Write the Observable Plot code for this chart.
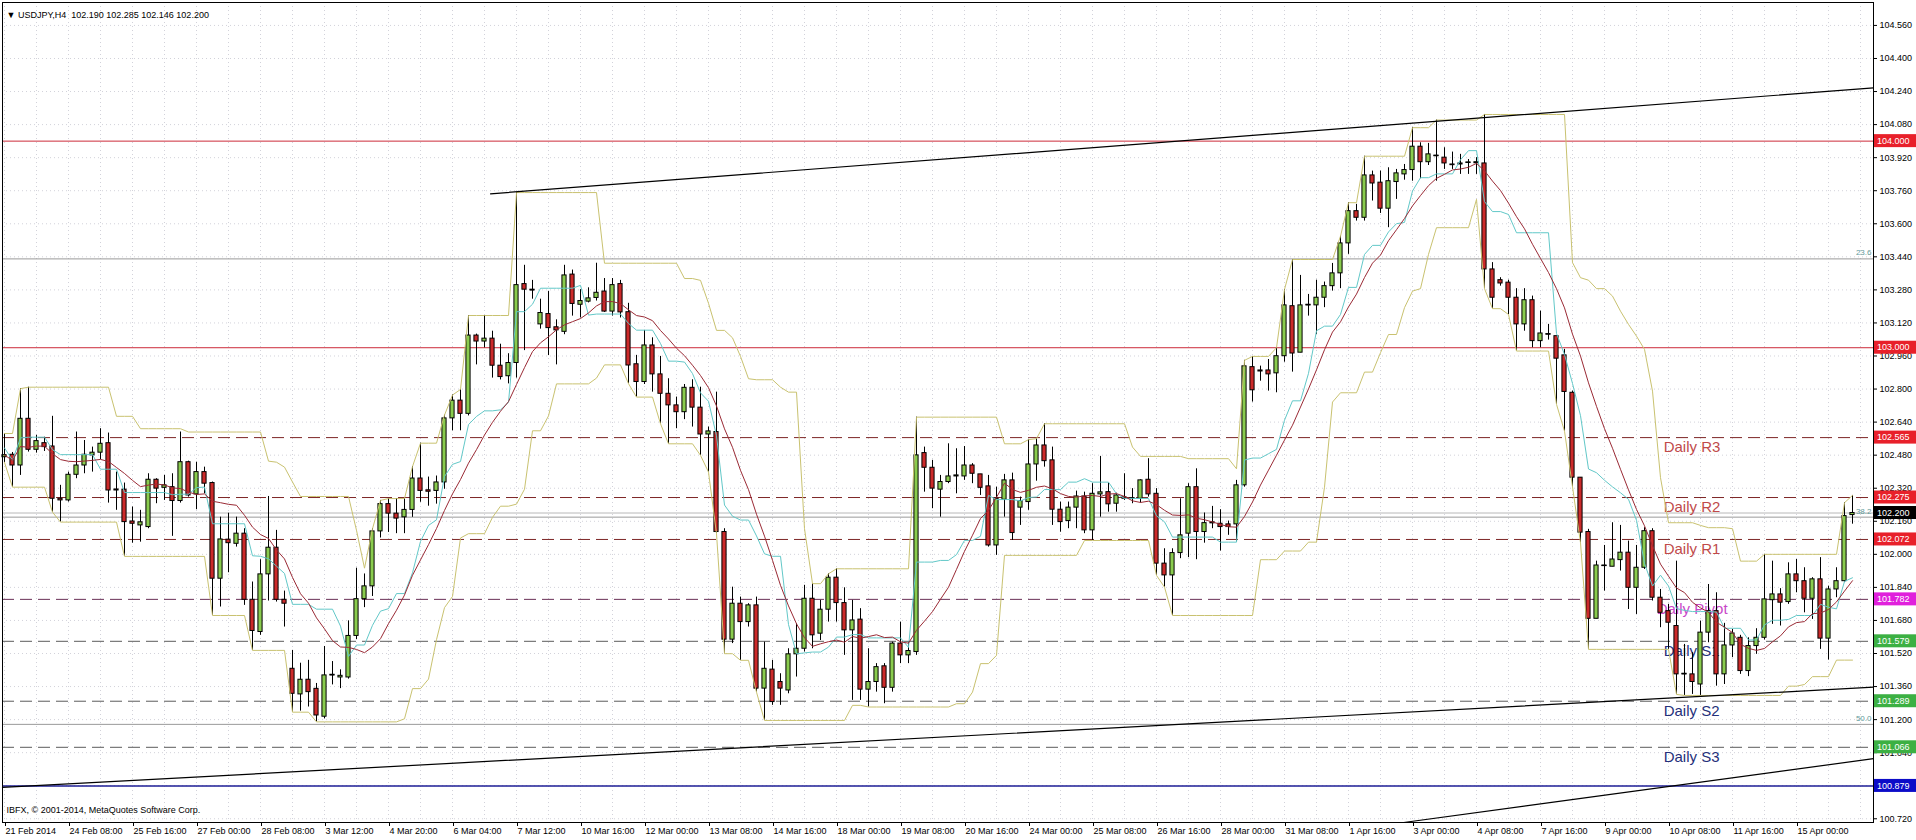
<!DOCTYPE html>
<html><head><meta charset="utf-8">
<script src="https://cdn.jsdelivr.net/npm/d3@7"></script>
<script src="https://cdn.jsdelivr.net/npm/@observablehq/plot@0.6"></script>
<style>
html,body{margin:0;padding:0;background:#fff;}
#chart{width:1916px;height:840px;overflow:hidden;}
</style></head><body><div id="chart"></div>
<script>
// ---------- DATA ----------
const symbol = "USDJPY,H4";
const copyright = "IBFX, \u00a9 2001-2014, MetaQuotes Software Corp.";

const barOpen = [102.470,102.482,102.430,102.656,102.506,102.538,102.522,102.269,102.261,102.385,102.430,102.479,102.492,102.538,102.314,102.313,102.159,102.140,102.132,102.361,102.322,102.325,102.258,102.446,102.290,102.398,102.345,101.882,102.071,102.051,102.100,101.780,101.624,101.903,102.032,101.780,101.446,101.322,101.393,101.349,101.214,101.414,101.404,101.404,101.605,101.783,101.845,102.111,102.243,102.197,102.179,102.215,102.367,102.310,102.307,102.348,102.658,102.744,102.680,103.059,103.030,103.044,102.913,102.862,102.926,103.308,103.281,103.113,103.163,103.099,103.077,103.354,103.208,103.223,103.241,103.272,103.175,103.308,103.172,102.920,102.834,103.011,102.871,102.777,102.721,102.688,102.806,102.710,102.580,102.592,102.108,101.587,101.761,101.672,101.753,101.350,101.442,101.382,101.341,101.516,101.543,101.785,101.616,101.732,101.887,101.764,101.632,101.684,101.345,101.382,101.458,101.354,101.568,101.511,101.527,102.490,102.419,102.313,102.350,102.377,102.377,102.430,102.387,102.329,102.043,102.264,102.358,102.226,102.253,102.435,102.527,102.455,102.216,102.161,102.226,102.280,102.116,102.290,102.301,102.245,102.276,102.269,102.269,102.361,102.293,101.955,101.898,102.006,102.100,102.325,102.108,102.150,102.148,102.145,102.145,102.334,102.906,102.890,102.890,102.876,102.959,103.201,102.976,103.205,103.205,103.242,103.298,103.360,103.505,103.661,103.629,103.834,103.799,103.673,103.802,103.839,103.860,103.973,103.898,103.927,103.920,103.887,103.892,103.895,103.893,103.892,103.379,103.327,103.315,103.242,103.113,103.230,103.032,103.064,103.056,102.963,102.782,102.371,102.108,101.688,101.943,101.940,101.972,102.008,101.838,101.935,102.112,101.790,101.725,101.653,101.419,101.419,101.370,101.621,101.725,101.419,101.559,101.596,101.435,101.556,101.596,101.778,101.806,101.769,101.903,101.870,101.785,101.879,101.592,101.830,101.870,102.190];

const barHigh = [102.585,102.493,102.802,102.809,102.576,102.567,102.668,102.334,102.398,102.592,102.551,102.519,102.608,102.587,102.398,102.345,102.229,102.213,102.390,102.366,102.382,102.390,102.592,102.451,102.446,102.422,102.350,102.180,102.199,102.180,102.124,101.866,101.974,102.280,102.116,101.822,101.535,101.473,101.487,101.375,101.554,101.481,101.441,101.678,101.933,101.905,102.124,102.261,102.270,102.270,102.270,102.425,102.538,102.374,102.379,102.674,102.771,102.798,103.156,103.066,103.156,103.080,103.017,102.971,103.751,103.399,103.326,103.235,103.272,103.135,103.399,103.376,103.281,103.290,103.409,103.335,103.335,103.326,103.215,102.963,103.084,103.048,102.958,102.850,102.761,102.822,102.845,102.809,102.616,102.785,102.124,101.841,101.793,101.761,101.793,101.575,101.487,101.422,101.543,101.664,101.850,101.858,101.777,101.906,101.930,101.838,101.777,101.737,101.543,101.471,101.471,101.575,101.672,101.575,102.664,102.519,102.455,102.382,102.535,102.511,102.522,102.439,102.387,102.382,102.325,102.387,102.393,102.277,102.555,102.560,102.632,102.519,102.253,102.253,102.306,102.301,102.342,102.474,102.345,102.296,102.390,102.318,102.361,102.463,102.318,102.027,102.027,102.269,102.342,102.414,102.200,102.232,102.216,102.161,102.358,102.939,102.958,102.911,102.943,103.000,103.282,103.427,103.350,103.258,103.327,103.318,103.408,103.540,103.702,103.694,103.927,103.855,103.855,103.871,103.863,103.887,104.065,103.992,103.989,104.102,103.968,103.947,103.936,103.911,103.920,104.129,103.412,103.339,103.327,103.286,103.286,103.250,103.177,103.113,103.056,102.992,102.790,102.371,102.121,101.967,102.043,102.153,102.140,102.064,102.043,102.129,102.124,101.830,101.758,101.967,101.564,101.524,101.677,101.854,101.814,101.666,101.637,101.608,101.596,101.640,102.000,101.967,101.834,101.959,101.975,101.935,101.887,101.984,101.846,101.935,102.250,102.285];

const barLow = [102.445,102.325,102.382,102.495,102.490,102.498,102.204,102.156,102.253,102.366,102.390,102.398,102.458,102.248,102.213,101.990,102.054,102.059,102.124,102.245,102.261,102.087,102.248,102.277,102.216,102.293,101.704,101.745,101.911,102.035,101.753,101.535,101.608,101.774,101.769,101.648,101.236,101.241,101.261,101.189,101.204,101.368,101.350,101.396,101.587,101.742,101.796,102.079,102.106,102.100,102.100,102.179,102.252,102.233,102.243,102.315,102.598,102.598,102.670,102.917,102.999,102.853,102.844,102.825,102.853,102.986,103.235,103.090,102.962,102.917,103.063,103.153,103.144,103.217,103.226,103.171,103.153,103.144,102.826,102.761,102.822,102.785,102.632,102.535,102.608,102.652,102.616,102.479,102.398,102.100,101.519,101.568,101.487,101.648,101.333,101.196,101.269,101.269,101.325,101.406,101.527,101.543,101.583,101.672,101.672,101.511,101.293,101.293,101.261,101.333,101.277,101.333,101.471,101.471,101.511,102.301,102.221,102.180,102.342,102.293,102.358,102.342,102.285,102.035,101.995,102.180,102.067,102.140,102.213,102.354,102.422,102.140,102.107,102.124,102.124,102.100,102.067,102.180,102.204,102.204,102.261,102.245,102.248,102.277,101.898,101.841,101.704,101.979,101.984,101.974,102.054,102.124,102.016,102.092,102.059,102.325,102.737,102.838,102.790,102.782,102.930,102.882,102.976,103.153,103.064,103.194,103.274,103.286,103.452,103.613,103.613,103.710,103.650,103.581,103.718,103.811,103.806,103.818,103.882,103.806,103.863,103.863,103.839,103.839,103.839,103.286,103.189,103.298,103.161,102.984,103.080,103.000,103.000,103.037,102.726,102.596,102.327,102.056,101.540,101.688,101.822,101.940,101.919,101.733,101.709,101.927,101.774,101.645,101.540,101.322,101.317,101.322,101.317,101.572,101.362,101.370,101.500,101.419,101.408,101.516,101.585,101.661,101.653,101.758,101.814,101.717,101.685,101.540,101.488,101.790,101.863,102.146];

const barClose = [102.480,102.430,102.656,102.506,102.548,102.519,102.269,102.261,102.385,102.430,102.482,102.492,102.535,102.309,102.309,102.156,102.148,102.155,102.361,102.318,102.334,102.258,102.446,102.285,102.398,102.342,101.882,102.072,102.054,102.100,101.780,101.629,101.903,102.032,101.780,101.761,101.325,101.393,101.333,101.220,101.414,101.417,101.412,101.605,101.783,101.845,102.111,102.243,102.197,102.173,102.215,102.367,102.307,102.303,102.348,102.658,102.744,102.680,103.059,103.030,103.044,102.913,102.858,102.926,103.303,103.281,103.279,103.168,103.095,103.084,103.350,103.212,103.226,103.239,103.266,103.175,103.303,103.171,102.914,102.834,103.011,102.871,102.777,102.721,102.688,102.806,102.710,102.580,102.595,102.108,101.587,101.761,101.672,101.753,101.350,101.446,101.285,101.350,101.516,101.543,101.785,101.608,101.732,101.887,101.764,101.632,101.680,101.345,101.382,101.454,101.354,101.568,101.511,101.532,102.479,102.419,102.318,102.350,102.377,102.382,102.430,102.390,102.322,102.043,102.269,102.358,102.103,102.258,102.435,102.527,102.451,102.216,102.156,102.226,102.280,102.116,102.293,102.300,102.242,102.285,102.269,102.272,102.358,102.290,101.955,101.898,102.006,102.092,102.325,102.108,102.151,102.155,102.132,102.132,102.334,102.910,102.794,102.885,102.871,102.959,103.205,102.972,103.205,103.208,103.242,103.298,103.360,103.505,103.661,103.629,103.834,103.795,103.673,103.806,103.844,103.860,103.973,103.898,103.936,103.930,103.892,103.886,103.887,103.897,103.898,103.379,103.242,103.311,103.242,103.113,103.230,103.032,103.069,103.066,102.947,102.786,102.371,102.105,101.688,101.946,101.946,101.975,102.008,101.838,101.935,102.112,101.790,101.717,101.669,101.419,101.422,101.382,101.621,101.725,101.419,101.559,101.617,101.435,101.556,101.596,101.782,101.806,101.766,101.903,101.870,101.785,101.879,101.592,101.830,101.870,102.185,102.200];

const timeLabelBars = [0,8,16,24,32,40,48,56,64,72,80,88,96,104,112,120,128,136,144,152,160,168,176,184,192,200,208,216,224];
const timeLabels = ["21 Feb 2014","24 Feb 08:00","25 Feb 16:00","27 Feb 00:00","28 Feb 08:00","3 Mar 12:00","4 Mar 20:00","6 Mar 04:00","7 Mar 12:00","10 Mar 16:00","12 Mar 00:00","13 Mar 08:00","14 Mar 16:00","18 Mar 00:00","19 Mar 08:00","20 Mar 16:00","24 Mar 00:00","25 Mar 08:00","26 Mar 16:00","28 Mar 00:00","31 Mar 08:00","1 Apr 16:00","3 Apr 00:00","4 Apr 08:00","7 Apr 16:00","9 Apr 00:00","10 Apr 08:00","11 Apr 16:00","15 Apr 00:00"];

const priceTicks = [104.56,104.40,104.24,104.08,103.92,103.76,103.60,103.44,103.28,103.12,102.96,102.80,102.64,102.48,102.32,102.16,102.00,101.84,101.68,101.52,101.36,101.20,101.04,100.88,100.72];

const pivotNames  = ["Daily R3","Daily R2","Daily R1","Daily Pivot","Daily S1","Daily S2","Daily S3"];
const pivotPrices = [102.565,102.275,102.072,101.782,101.579,101.289,101.066];
const pivotKinds  = ["R","R","R","P","S","S","S"];
const pivotLabelBar = 207.4;

const roundLevels = [104.000,103.000];
const blueLevel = 100.879;
const bidPrice = 102.200;

const fibNames  = ["23.6","38.2","50.0"];
const fibPrices = [103.430,102.180,101.177];

const trendUpperBars = [60.75,233.625],  trendUpperPrices = [103.745,104.258];
const trendLowerBars = [-0.25,233.625],  trendLowerPrices = [100.872,101.357];
const trendBottomBars = [174.9,233.625], trendBottomPrices = [100.702,101.011];

// ---------- STYLE ----------
const C = {
  bull:"#8acc4e", bear:"#cc2a2a", wick:"#000",
  grid:"#d2d2da", round:"#cc2b3a", blue:"#1e1e96",
  R:"#7d2626", P:"#6a3056", S:"#5c5c5c",
  Rtext:"#c04a4a", Ptext:"#c848c8", Stext:"#25307a",
  fib:"#9a9a9a", fibText:"#5f9a9a", bid:"#b8b8b8",
  donchian:"#c9c270", tenkan:"#62c8c8", sma:"#9a2a35",
  boxRound:"#e8202a", boxR:"#e8202a", boxP:"#e020dc", boxS:"#3cb043", boxBid:"#000000", boxBlue:"#0c0cc8"
};
const FONT = "'Liberation Sans', Arial, sans-serif";

// ---------- DERIVED ----------
const bars = barOpen.map((o, i) => ({i, o, h: barHigh[i], l: barLow[i], c: barClose[i]}));
const rolling = (arr, n, f) => arr.map((_, i) => f(arr.slice(Math.max(0, i - n + 1), i + 1)));
const dcHi = rolling(barHigh, 11, d3.max);
const dcLo = rolling(barLow, 11, d3.min);
const tkHi = rolling(barHigh, 9, d3.max), tkLo = rolling(barLow, 9, d3.min);
const sma = rolling(barClose, 12, d3.mean);
const ind = bars.map((d, i) => ({i, dcHi: dcHi[i], dcLo: dcLo[i], tenkan: (tkHi[i] + tkLo[i]) / 2, sma: sma[i]}));
const pivots = pivotNames.map((name, k) => ({name, p: pivotPrices[k], kind: pivotKinds[k]}));
const fibs = fibNames.map((name, k) => ({name, p: fibPrices[k]}));
const pts = (bs, ps) => bs.map((b, k) => ({i: b, p: ps[k]}));
const last = bars[bars.length - 1];
const fmt = d3.format(".3f");
const labelByBar = new Map(timeLabelBars.map((b, k) => [b, timeLabels[k]]));
const vGrid = d3.range(0, 233, 4);

const xDomain = [-0.25, 233.625];
const yDomain = [100.702, 104.671];

const pivotText = (kinds, dx) => Plot.text(pivots.filter(d => kinds.includes(d.kind)), {
  x: () => pivotLabelBar, y: "p", text: "name", dy: 10, dx,
  textAnchor: "start", fontSize: 15, fill: d => C[d.kind + "text"]
});

const chart = Plot.plot({
  width: 1916, height: 840,
  marginLeft: 2, marginRight: 43, marginTop: 2, marginBottom: 18,
  x: {type: "linear", domain: xDomain},
  y: {type: "linear", domain: yDomain},
  style: {background: "#fff", fontFamily: FONT, fontSize: "9px", color: "#000"},
  marks: [
    Plot.gridY(priceTicks, {stroke: C.grid, strokeOpacity: 1, strokeDasharray: "1,3"}),
    Plot.gridX(vGrid, {stroke: C.grid, strokeOpacity: 1, strokeDasharray: "1,3"}),
    Plot.ruleY(fibs, {y: "p", stroke: C.fib, strokeWidth: 1}),
    Plot.ruleY([bidPrice], {stroke: C.bid, strokeWidth: 1}),
    Plot.ruleY(roundLevels, {stroke: C.round, strokeWidth: 1}),
    Plot.ruleY([blueLevel], {stroke: C.blue, strokeWidth: 1.5}),
    Plot.ruleY(pivots, {y: "p", stroke: d => C[d.kind], strokeWidth: 1, strokeDasharray: "12,6"}),
    pivotText(["R", "S"], 0),
    pivotText(["P"], -7),
    Plot.ruleX(bars, {x: "i", y1: "l", y2: "h", stroke: C.wick, strokeWidth: 1}),
    Plot.rect(bars, {x1: d => d.i - 0.26, x2: d => d.i + 0.26, y1: "o", y2: "c",
      fill: d => d.c >= d.o ? C.bull : C.bear, stroke: "#000", strokeWidth: 1}),
    Plot.ruleY(bars.filter(d => Math.abs(d.c - d.o) < 0.004), {y: "c", x1: d => d.i - 0.3, x2: d => d.i + 0.3, stroke: "#000"}),
    Plot.line(ind, {x: "i", y: "dcHi", stroke: C.donchian, strokeWidth: 1}),
    Plot.line(ind, {x: "i", y: "dcLo", stroke: C.donchian, strokeWidth: 1}),
    Plot.line(ind, {x: "i", y: "tenkan", stroke: C.tenkan, strokeWidth: 1}),
    Plot.line(ind, {x: "i", y: "sma", stroke: C.sma, strokeWidth: 1}),
    Plot.line(pts(trendUpperBars, trendUpperPrices), {x: "i", y: "p", stroke: "#000", strokeWidth: 1.2}),
    Plot.line(pts(trendLowerBars, trendLowerPrices), {x: "i", y: "p", stroke: "#000", strokeWidth: 1.2}),
    Plot.line(pts(trendBottomBars, trendBottomPrices), {x: "i", y: "p", stroke: "#000", strokeWidth: 1.2}),
    Plot.text(fibs, {x: () => xDomain[1], y: "p", text: "name", dx: -2, dy: -6, textAnchor: "end", fontSize: 8, fill: C.fibText}),
    Plot.frame({stroke: "#000"}),
    Plot.axisY(priceTicks, {anchor: "right", tickFormat: fmt, tickSize: 3, tickPadding: 3, fontSize: 9, label: null}),
    Plot.axisX(timeLabelBars, {anchor: "bottom", tickFormat: d => labelByBar.get(d), tickSize: 4, tickPadding: 1,
      textAnchor: "start", dx: 1, fontSize: 9, label: null}),
    Plot.text([`\u25BC ${symbol}  ${fmt(last.o)} ${fmt(last.h)} ${fmt(last.l)} ${fmt(last.c)}`],
      {frameAnchor: "top-left", dx: 4, dy: 9, textAnchor: "start", fontSize: 9}),
    Plot.text([copyright], {frameAnchor: "bottom-left", dx: 4, dy: -10, textAnchor: "start", fontSize: 9})
  ]
});
document.getElementById("chart").append(chart);

// highlighted price boxes on the right axis, positioned by Plot's y scale
const ys = chart.scale("y");
const boxes = [
  ...roundLevels.map(p => ({p, kind: "Round"})),
  ...pivots.map(d => ({p: d.p, kind: d.kind})),
  {p: bidPrice, kind: "Bid"},
  {p: blueLevel, kind: "Blue"}
];
const g = d3.select(chart).append("g")
  .attr("font-size", 9).attr("font-family", FONT).attr("text-anchor", "start");
for (const b of boxes) {
  const y = ys.apply(b.p);
  g.append("rect").attr("x", 1874).attr("y", y - 6.5).attr("width", 42).attr("height", 13).attr("fill", C["box" + b.kind]);
  g.append("text").attr("x", 1877).attr("y", y).attr("dy", "0.35em").attr("text-anchor", "start")
    .attr("fill", "#fff").text(fmt(b.p));
}
</script>
</body></html>
